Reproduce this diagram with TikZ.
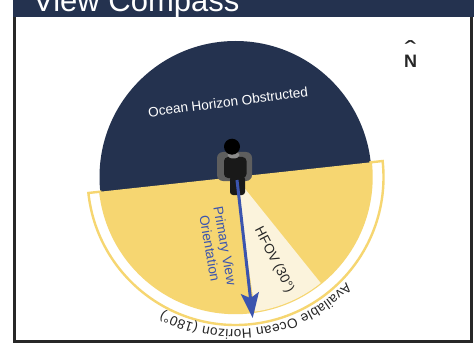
\documentclass[tikz,border=0pt]{standalone}
\usepackage{fontspec}
\setmainfont{Liberation Sans}
\usetikzlibrary{decorations.text,arrows.meta}
\definecolor{navy}{HTML}{24324F}
\definecolor{gold}{HTML}{F6D671}
\definecolor{cream}{HTML}{FBF3DC}
\definecolor{viewblue}{HTML}{3B54AE}
\definecolor{ink}{HTML}{262626}
\definecolor{framec}{HTML}{282828}
\definecolor{coat}{HTML}{5E5E5E}
\tikzset{
  lbl/.style={inner sep=0pt, font=\fontsize{13.6}{15.5}\selectfont},
  body/.style={fill=black!90},
}
\begin{document}
\begin{tikzpicture}[x=1pt,y=1pt]
\useasboundingbox (0,0) rectangle (474,346);
\clip (0,0) rectangle (474,346);
\fill[white] (0,0) rectangle (474,346);
% panel frame and header band
\draw[framec, line width=3pt] (14.5,5) rectangle (471.5,336);
\fill[navy] (13,329) rectangle (474,346);
\node[anchor=base west, inner sep=0pt, text=white, font=\fontsize{31}{31}\selectfont] (title) at (33,334) {View Compass};
% compass disc
\coordinate (o) at (235.5,169);
\fill[navy] (o) circle (136);
% outer band of the available horizon
\draw[gold, line width=2.4pt, fill=white]
  ([shift={(6.2:136)}]o) -- ([shift={(6.2:148)}]o)
  arc[start angle=6.2, end angle=-173.8, radius=148]
  -- ([shift={(-173.8:136)}]o)
  arc[start angle=-173.8, end angle=6.2, radius=136] -- cycle;
% available half disc
\fill[gold] ([shift={(6.2:136)}]o) arc[start angle=6.2, end angle=-173.8, radius=136] -- cycle;
% horizontal field of view
\fill[cream] (o) -- ([shift={(-81.7:136)}]o) arc[start angle=-81.7, end angle=-51.2, radius=136] -- cycle;
% curved caption outside the band
\path[decorate, decoration={text along path, text align=fit to path,
  text={|\fontsize{13.6}{13.6}\selectfont\color{ink}|Available Ocean Horizon (180°)}}]
  ([shift={(-43.5:152.5)}]o) arc[start angle=-43.5, end angle=-118.5, radius=152.5];
\node[lbl, text=white, rotate=7.3] (obs) at (228,244) {Ocean Horizon Obstructed};
\node[lbl, text=viewblue, rotate=-80, align=center] (pvo) at (217.5,99) {Primary View\\Orientation};
\node[lbl, text=ink, rotate=-62.7] (hfov) at (274,86) {HFOV (30°)};
% viewer seen from above
\fill[coat, rounded corners=6pt] (217,165) rectangle (252,194);
\fill[body, rounded corners=4pt] (224,168) rectangle (246.5,189);
\fill[body, rounded corners=3pt] (230,151) rectangle (245,170);
\fill[black!45] (233.5,191) ellipse (6 and 3.5);
\fill[black] (232,199.3) circle (8);
% primary view direction
\coordinate (feet) at (237,166);
\coordinate (tip) at (252.7,28);
\draw[viewblue, line width=3pt, -{Stealth[length=25pt, width=18pt, inset=5pt]}] (feet) -- (tip);
% north marker, wide caret set well above the letter
\node[anchor=base, inner sep=0pt, text=ink, font=\bfseries\fontsize{18}{18}\selectfont] (north) at (410.5,278)
  {\ooalign{N\cr\hidewidth{\mdseries\fontsize{20}{20}\selectfont\raisebox{8pt}{\scalebox{1.7}[1.3]{ˆ}}}\hidewidth\cr}};
\end{tikzpicture}
\end{document}
